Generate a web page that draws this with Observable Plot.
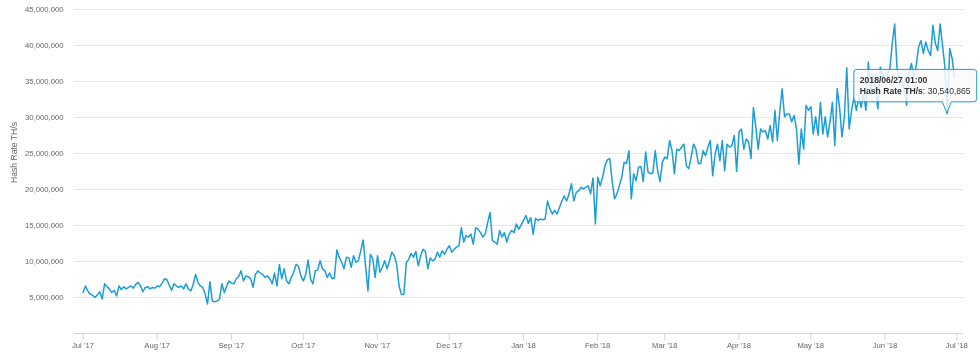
<!DOCTYPE html>
<html><head><meta charset="utf-8">
<script src="https://cdn.jsdelivr.net/npm/d3@7"></script>
<script src="https://cdn.jsdelivr.net/npm/@observablehq/plot@0.6"></script>
<style>
html,body{margin:0;padding:0;background:#fff;}
#chart{width:980px;height:362px;overflow:hidden;}
#chart svg{will-change:transform;}
</style></head><body><div id="chart"></div>
<script>
// Daily network hash rate, millions of TH/s, one reading per day at 01:00 (UTC)
const jul17 = [5.7,6.6,5.9,5.5,5.3,5.0,5.4,5.8,4.8,6.9,6.5,6.2,5.7,6.0,5.2,6.6,6.1,6.5,6.2,6.4,6.6,6.3,6.8,7.1,6.6,5.8,6.4,6.5,6.2,6.4,6.3];
const aug17 = [6.6,6.5,7.0,7.6,7.5,6.7,6.0,6.9,6.6,6.4,6.6,6.2,6.9,6.2,5.9,6.8,8.2,7.1,6.6,6.4,5.5,4.1,7.2,4.5,4.4,4.5,4.8,6.9,5.7,6.6,7.3];
const sep17 = [7.0,6.9,7.6,7.9,8.7,7.3,8.0,7.9,7.6,6.4,8.2,8.7,8.4,8.2,7.8,8.0,7.6,6.9,8.4,6.6,9.6,7.6,9.0,7.3,6.9,7.8,8.5,9.6,9.3,8.0];
const oct17 = [7.3,8.2,10.2,7.6,6.9,8.7,8.8,10.1,9.0,8.7,7.8,8.4,7.6,7.7,11.6,10.6,9.9,9.0,10.6,10.5,9.2,10.8,9.9,10.1,11.5,13.0,9.4,5.9,11.0,10.4,7.8];
const nov17 = [10.8,8.5,9.2,10.1,9.0,10.1,11.3,10.8,9.6,6.6,5.4,5.4,9.8,10.3,11.1,10.6,11.4,9.4,10.8,11.7,11.4,9.0,10.5,10.1,10.3,11.3,10.6,11.5,11.0,11.7];
const dec17 = [12.2,11.3,11.7,12.0,12.2,14.7,12.7,13.6,13.4,13.8,12.4,14.7,14.5,14.0,13.4,13.8,15.4,16.8,12.9,12.7,12.4,14.3,13.4,14.0,12.7,13.8,14.3,14.0,15.2,14.5,15.1];
const jan18 = [15.7,16.4,15.3,16.1,13.8,16.0,15.7,15.9,15.8,15.9,18.4,17.3,16.6,17.1,16.6,17.5,18.4,19.1,18.4,19.4,20.8,18.4,19.6,19.8,20.3,20.1,20.3,20.5,19.4,21.6,15.2];
const feb18 = [21.7,20.5,21.7,23.3,24.1,24.3,21.2,18.7,19.4,20.5,21.7,23.8,23.6,25.4,18.7,22.2,21.2,23.1,23.2,21.1,25.2,22.4,22.2,22.3,25.4,22.6,21.1,23.8];
const mar18 = [24.5,24.3,26.8,25.4,22.2,25.6,25.4,25.9,26.3,23.3,22.9,24.5,26.3,25.6,23.6,23.6,25.4,24.7,25.9,26.8,21.9,24.9,26.3,24.0,26.8,22.6,26.3,25.9,26.1,27.5,22.5];
const apr18 = [28.0,28.4,25.6,27.0,26.6,24.3,31.4,28.7,25.6,28.4,28.0,28.2,27.0,28.9,26.6,31.0,26.8,30.8,34.0,30.1,30.5,30.5,29.4,30.3,28.4,23.5,28.4,25.6,31.7,31.0];
const may18 = [31.5,27.7,30.1,27.5,32.1,27.7,30.1,27.3,29.4,32.1,26.1,34.0,31.4,27.3,30.1,36.9,28.4,31.0,32.8,31.0,32.8,31.4,33.3,31.0,37.7,33.3,35.9,33.8,31.2,37.0,35.6];
const jun18 = [36.1,36.1,36.8,40.3,43.0,36.8,35.6,35.2,33.8,31.7,36.1,37.5,35.6,37.2,39.8,40.7,38.9,40.5,39.3,38.6,42.8,40.3,39.3,43.0,40.0,37.0,30.540865,39.6,38.2,35.6];

const monthStarts = ["2017-07","2017-08","2017-09","2017-10","2017-11","2017-12","2018-01","2018-02","2018-03","2018-04","2018-05","2018-06"];
const monthValues = [jul17,aug17,sep17,oct17,nov17,dec17,jan18,feb18,mar18,apr18,may18,jun18];

const monthTicks = ["2017-07-01","2017-08-01","2017-09-01","2017-10-01","2017-11-01","2017-12-01","2018-01-01","2018-02-01","2018-03-01","2018-04-01","2018-05-01","2018-06-01","2018-07-01"];
const yTicks = [5e6,10e6,15e6,20e6,25e6,30e6,35e6,40e6,45e6];
const yTitle = "Hash Rate TH/s";
const seriesName = "Hash Rate TH/s";
const hoveredDate = "2018-06-27T01:00:00Z";
const xDomain = ["2017-06-27T11:11:00Z","2018-07-03T19:09:00Z"];

(function () {
  const lineColor = "#1b9dd9";
  const font = "'Liberation Sans', Arial, Helvetica, sans-serif";

  const data = [];
  monthStarts.forEach((ym, k) => {
    const [yy, mm] = ym.split("-").map(Number);
    monthValues[k].forEach((v, i) => {
      data.push({date: new Date(Date.UTC(yy, mm - 1, i + 1, 1)), value: Math.round(v * 1e6)});
    });
  });
  const tickDates = monthTicks.map(d => new Date(d + "T00:00:00Z"));

  const chart = Plot.plot({
    width: 980, height: 362,
    marginTop: 9, marginRight: 17, marginBottom: 29, marginLeft: 74,
    style: {fontFamily: font, fontSize: "7.7px", color: "#666", background: "#fff", overflow: "visible"},
    x: {type: "utc", domain: xDomain.map(d => new Date(d))},
    y: {domain: [0, 45e6]},
    marks: [
      Plot.gridY(yTicks, {stroke: "#e6e6e6", strokeOpacity: 1}),
      Plot.axisY(yTicks, {tickSize: 0, tickPadding: 11, tickFormat: d3.format(","), color: "#666", label: null}),
      Plot.axisX(tickDates, {tickSize: 7, tickFormat: () => "", color: "#ccd6eb", strokeOpacity: 1, label: null}),
      Plot.axisX(tickDates, {tickSize: 0, tickPadding: 8.8, tickFormat: d3.utcFormat("%b '%y"), color: "#666", label: null}),
      Plot.ruleY([0], {stroke: "#ccd6eb", strokeOpacity: 1}),
      Plot.lineY(data, {x: "date", y: "value", stroke: lineColor, strokeWidth: 1.5})
    ]
  });
  document.getElementById("chart").appendChild(chart);

  const svg = d3.select(chart);
  const xs = chart.scale("x"), ys = chart.scale("y");

  // y-axis title
  svg.append("text")
    .attr("transform", "translate(13.5,152.5) rotate(-90)")
    .attr("text-anchor", "middle").attr("dominant-baseline", "central")
    .attr("fill", "#666").style("font-size", "8.6px").style("font-family", font)
    .text(yTitle);

  // tooltip for the hovered point
  const hp = data.find(d => +d.date === +new Date(hoveredDate));
  const px = xs.apply(hp.date), py = ys.apply(hp.value);
  const g = svg.append("g").style("font-family", font).style("font-size", "8.6px").attr("text-anchor", "start");
  const bx0 = px - 93, bBot = py - 11.3, bTop = bBot - 32.4;
  const t1 = g.append("text").attr("x", bx0 + 6).attr("y", bTop + 13.7).attr("text-anchor", "start").attr("fill", "#333").style("font-weight", "bold")
    .text(d3.utcFormat("%Y/%m/%d %H:%M")(hp.date));
  const t2 = g.append("text").attr("x", bx0 + 6).attr("y", bTop + 25).attr("text-anchor", "start").attr("fill", "#333");
  t2.append("tspan").style("font-weight", "bold").text(seriesName);
  t2.append("tspan").text(": " + d3.format(",")(hp.value));
  const w = Math.max(t1.node().getComputedTextLength(), t2.node().getComputedTextLength());
  const bx1 = bx0 + w + 12, r = 3;
  const path = `M${bx0 + r},${bTop} H${bx1 - r} Q${bx1},${bTop} ${bx1},${bTop + r} V${bBot - r} Q${bx1},${bBot} ${bx1 - r},${bBot} H${px + 4.5} L${px},${py} L${px - 4.5},${bBot} H${bx0 + r} Q${bx0},${bBot} ${bx0},${bBot - r} V${bTop + r} Q${bx0},${bTop} ${bx0 + r},${bTop} Z`;
  g.insert("path", "text").attr("d", path).attr("fill", "rgba(250,250,250,0.85)").attr("stroke", lineColor).attr("stroke-width", 1);
})();
</script>
</body></html>
